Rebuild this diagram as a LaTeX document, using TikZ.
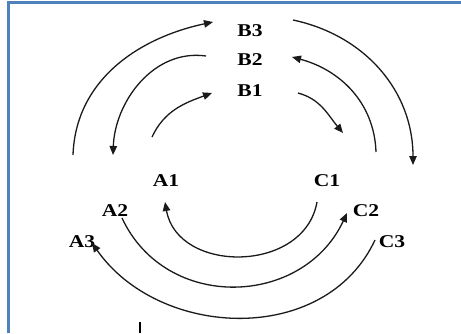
\documentclass[tikz,border=0pt]{standalone}
\usepackage{fontspec}
\usepackage{tikz}
\usetikzlibrary{arrows.meta}
\newfontfamily\lblfont[FakeStretch=1.2]{Liberation Serif}
\definecolor{frameblue}{HTML}{4F81BD}
\definecolor{arcgray}{HTML}{1A1A1A}

\begin{document}
\begin{tikzpicture}[x=1pt,y=1pt,
    lbl/.style={font=\lblfont\bfseries\fontsize{18}{20}\selectfont,inner sep=0pt},
    flow/.style={line width=1.3pt,arcgray,-{Triangle[length=9pt,width=7.5pt]}}]
        \useasboundingbox (0,0) rectangle (461,333);
        % frame
        \draw[frameblue,line width=2.4pt] (8.5,0)--(8.5,330.5)--(461,330.5);
        \draw[line width=1.6pt] (140,0)--(140,11);
        % labels
        \node[lbl] (b3) at (250,302.5) {B3};
        \node[lbl] (b2) at (250,273) {B2};
        \node[lbl] (b1) at (250,242) {B1};
        \node[lbl] (a1) at (166,152) {A1};
        \node[lbl] (c1) at (327,152) {C1};
        \node[lbl] (a2) at (115,122) {A2};
        \node[lbl] (c2) at (366,122) {C2};
        \node[lbl] (a3) at (82,91) {A3};
        \node[lbl] (c3) at (392,91) {C3};
        % free ends of the arcs
        \coordinate (l3s) at (73,178);   \coordinate (l3e) at (213,311);
        \coordinate (l2s) at (206,277);  \coordinate (l2e) at (113,178);
        \coordinate (l1s) at (152,196);  \coordinate (l1e) at (212,240);
        \coordinate (r1s) at (298,240);  \coordinate (r1e) at (343,200);
        \coordinate (r2s) at (376,181);  \coordinate (r2e) at (292,276);
        \coordinate (r3s) at (293,313);  \coordinate (r3e) at (413,168);
        \coordinate (in1s) at (317,131); \coordinate (in1e) at (165,131);
        \coordinate (in2s) at (122,115); \coordinate (in2e) at (347,120);
        \coordinate (in3s) at (375,93);  \coordinate (in3e) at (92,90);
        % upper arcs
        \draw[flow] (l3s) to[out=88,in=192] (l3e);
        \draw[flow] (l2s) to[out=172,in=88] (l2e);
        \draw[flow] (l1s) to[out=65,in=200] (l1e);
        \draw[flow] (r1s) to[out=-15,in=130] (r1e);
        \draw[flow] (r2s) to[out=92,in=-15] (r2e);
        \draw[flow] (r3s) to[out=-12,in=90] (r3e);
        % lower arcs
        \draw[flow] (in1s) to[out=-100,in=-80,looseness=1.23] (in1e);
        \draw[flow] (in2s) to[out=-65,in=-115,looseness=1.18] (in2e);
        \draw[flow] (in3s) to[out=-115,in=-55,looseness=1.06] (in3e);
      \end{tikzpicture}
\end{document}
